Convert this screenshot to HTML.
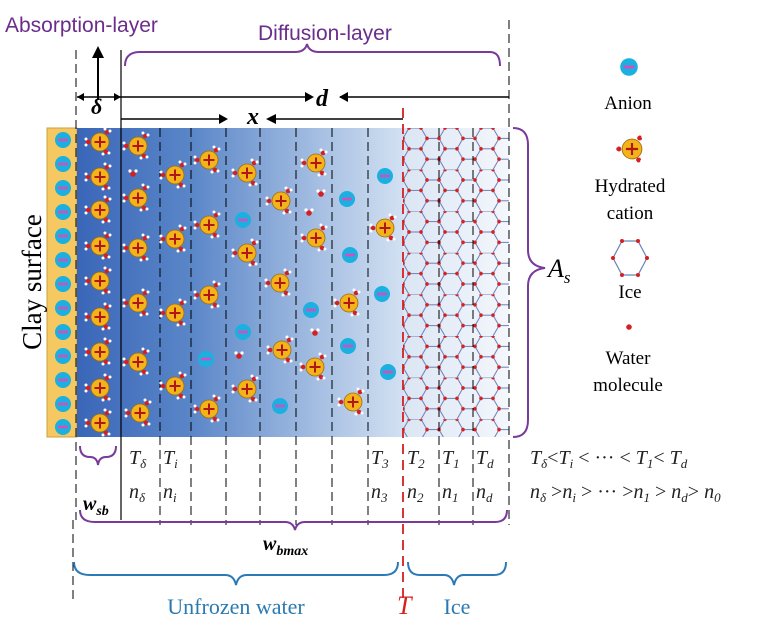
<!DOCTYPE html>
<html><head><meta charset="utf-8"><style>
body{margin:0;background:#fff;}
svg{display:block;font-family:"Liberation Serif",serif;}
</style></head><body>
<svg width="777" height="625" viewBox="0 0 777 625" xmlns="http://www.w3.org/2000/svg">
<defs>
<linearGradient id="g" x1="0" x2="1" y1="0" y2="0">
<stop offset="0" stop-color="#3a66b8"/><stop offset="0.35" stop-color="#5a86c8"/><stop offset="0.75" stop-color="#a7c0e3"/><stop offset="1" stop-color="#d2e0f2"/></linearGradient>
<linearGradient id="gi" x1="0" x2="1"><stop offset="0" stop-color="#dbe6f4"/><stop offset="1" stop-color="#f4f7fc"/></linearGradient>
<g id="cat">
<circle r="9" fill="#f3b419" stroke="#a06a10" stroke-width="0.8"/>
<path d="M-5.5 0H5.5M0 -5.5V5.5" stroke="#b01818" stroke-width="2"/>
<circle cx="-12" cy="0" r="2.3" fill="#d42020"/><circle cx="-14" cy="-3" r="1.5" fill="#fff"/><circle cx="-14" cy="3" r="1.5" fill="#fff"/>
<circle cx="7" cy="-10" r="2.3" fill="#d42020"/><circle cx="10" cy="-11" r="1.5" fill="#fff"/><circle cx="5" cy="-13" r="1.5" fill="#fff"/>
<circle cx="6" cy="10" r="2.3" fill="#d42020"/><circle cx="9" cy="11" r="1.5" fill="#fff"/><circle cx="3" cy="12" r="1.5" fill="#fff"/>
</g>
<g id="an"><circle r="8" fill="#1ab0e0"/><rect x="-5" y="-1.3" width="10" height="2.6" fill="#d050c0"/></g>
<g id="wm"><circle r="2.8" fill="#d42020"/><circle cx="-3" cy="-3" r="1.6" fill="#fff"/><circle cx="3" cy="-3" r="1.6" fill="#fff"/></g>
<pattern id="hex" x="403" y="128" width="36" height="41.6" patternUnits="userSpaceOnUse">
<path d="M6 0H18L24 10.4L18 20.8H6L0 10.4Z M24 10.4H36 M6 20.8L0 31.2L6 41.6 M18 20.8L24 31.2L18 41.6 M24 31.2H36" fill="none" stroke="#6a80b8" stroke-width="1"/>
<g fill="#d42020"><circle cx="6" cy="0" r="1.8"/><circle cx="18" cy="0" r="1.8"/><circle cx="24" cy="10.4" r="1.8"/><circle cx="0" cy="10.4" r="1.8"/><circle cx="36" cy="10.4" r="1.8"/><circle cx="6" cy="20.8" r="1.8"/><circle cx="18" cy="20.8" r="1.8"/><circle cx="24" cy="31.2" r="1.8"/><circle cx="0" cy="31.2" r="1.8"/><circle cx="36" cy="31.2" r="1.8"/></g>
</pattern>
</defs>

<text x="5" y="32" font-size="21" fill="#6b2d8c" font-family="Liberation Sans, sans-serif">Absorption-layer</text>
<text x="258" y="40" font-size="21" fill="#6b2d8c" font-family="Liberation Sans, sans-serif">Diffusion-layer</text>
<path d="M125 66 Q125 52 140 52 H295 Q305 52 307 44 Q309 52 319 52 H490 Q500 52 500 66" fill="none" stroke="#7a3a9a" stroke-width="2"/>
<path d="M98 100V52" stroke="#000" stroke-width="2"/><path d="M92 58L98 46L104 58Z" fill="#000"/>

<path d="M77 97H121" stroke="#000" stroke-width="1.5"/><path d="M84 93L77 97L84 101Z M114 93L121 97L114 101Z" fill="#000"/>
<text x="91" y="114" font-size="22" font-style="italic" font-weight="bold">δ</text>
<path d="M121 97H312" stroke="#000" stroke-width="1.5"/><path d="M305 92L314 97L305 102Z" fill="#000"/>
<text x="316" y="106" font-size="24" font-style="italic" font-weight="bold">d</text>
<path d="M340 97H509" stroke="#000" stroke-width="1.5"/><path d="M348 92L339 97L348 102Z" fill="#000"/>
<path d="M121 119H226" stroke="#000" stroke-width="1.5"/><path d="M219 114L228 119L219 124Z" fill="#000"/>
<text x="247" y="124" font-size="24" font-style="italic" font-weight="bold">x</text>
<path d="M268 119H403" stroke="#000" stroke-width="1.5"/><path d="M276 114L266 119L276 124Z" fill="#000"/>

<rect x="47" y="128" width="30" height="309" fill="#f5c862" stroke="#c9a040"/>
<rect x="77" y="128" width="326" height="309" fill="url(#g)"/>
<rect x="403" y="128" width="106" height="309" fill="url(#gi)"/>
<rect x="403" y="128" width="106" height="309" fill="url(#hex)"/>
<g><use href="#an" x="63" y="140"/><use href="#an" x="63" y="164"/><use href="#an" x="63" y="188"/><use href="#an" x="63" y="212"/><use href="#an" x="63" y="236"/><use href="#an" x="63" y="260"/><use href="#an" x="63" y="284"/><use href="#an" x="63" y="308"/><use href="#an" x="63" y="332"/><use href="#an" x="63" y="356"/><use href="#an" x="63" y="380"/><use href="#an" x="63" y="404"/><use href="#an" x="63" y="427"/></g>

<g stroke="#000" stroke-width="1" stroke-dasharray="9,5">
<path d="M76 50V520"/><path d="M160 128V525"/><path d="M191 128V525"/><path d="M226 128V525"/><path d="M260 128V525"/><path d="M296 128V525"/><path d="M332 128V525"/><path d="M368 128V525"/><path d="M439 128V525"/><path d="M473 128V525"/><path d="M509 20V525"/><path d="M73 520V600"/>
</g>
<path d="M121 50V520" stroke="#000" stroke-width="1.2"/>
<path d="M403 108V600" stroke="#d42020" stroke-width="1.8" stroke-dasharray="10,6"/>

<g>
<use href="#cat" x="100" y="142"/><use href="#cat" x="100" y="177"/><use href="#cat" x="100" y="210"/><use href="#cat" x="100" y="246"/><use href="#cat" x="100" y="281"/><use href="#cat" x="100" y="317"/><use href="#cat" x="100" y="352"/><use href="#cat" x="100" y="388"/><use href="#cat" x="100" y="423"/>
<use href="#cat" x="138" y="146"/><use href="#cat" x="138" y="198"/><use href="#cat" x="138" y="248"/><use href="#cat" x="138" y="303"/><use href="#cat" x="138" y="362"/><use href="#cat" x="140" y="413"/>
<use href="#cat" x="175" y="175"/><use href="#cat" x="175" y="239"/><use href="#cat" x="175" y="313"/><use href="#cat" x="175" y="386"/>
<use href="#cat" x="209" y="160"/><use href="#cat" x="209" y="225"/><use href="#cat" x="209" y="295"/><use href="#cat" x="209" y="409"/>
<use href="#cat" x="247" y="173"/><use href="#cat" x="247" y="253"/><use href="#cat" x="247" y="389"/>
<use href="#cat" x="281" y="201"/><use href="#cat" x="280" y="283"/><use href="#cat" x="282" y="350"/>
<use href="#cat" x="316" y="163"/><use href="#cat" x="316" y="238"/><use href="#cat" x="315" y="367"/>
<use href="#cat" x="349" y="303"/><use href="#cat" x="353" y="402"/><use href="#cat" x="385" y="228"/>
<use href="#an" x="243" y="220"/><use href="#an" x="347" y="199"/><use href="#an" x="385" y="176"/><use href="#an" x="350" y="255"/><use href="#an" x="382" y="294"/><use href="#an" x="311" y="310"/><use href="#an" x="243" y="332"/><use href="#an" x="348" y="346"/><use href="#an" x="206" y="359"/><use href="#an" x="388" y="372"/><use href="#an" x="280" y="406"/>
<use href="#wm" x="133" y="174"/><use href="#wm" x="321" y="194"/><use href="#wm" x="309" y="213"/><use href="#wm" x="315" y="333"/><use href="#wm" x="239" y="356"/>
</g>

<text transform="translate(41,282) rotate(-90)" text-anchor="middle" font-size="27" fill="#000">Clay surface</text>

<path d="M513 128 Q528 128 528 145 V250 Q528 266 545 268 Q528 270 528 286 V420 Q528 437 513 437" fill="none" stroke="#7a3a9a" stroke-width="2"/>
<text x="548" y="277" font-size="26" font-style="italic">A<tspan font-size="17" dy="6">s</tspan></text>

<g transform="translate(629,67) scale(1.1)"><use href="#an"/></g>
<text x="628" y="109" font-size="19" text-anchor="middle">Anion</text>
<g transform="translate(632,149) scale(1.1)"><use href="#cat"/></g>
<text x="630" y="192" font-size="19" text-anchor="middle">Hydrated</text>
<text x="630" y="219" font-size="19" text-anchor="middle">cation</text>
<g transform="translate(630,258)"><path d="M-8 -17H8L17 0L8 17H-8L-17 0Z" fill="none" stroke="#6a80b8" stroke-width="1.2"/><g fill="#d42020"><circle cx="-8" cy="-17" r="2"/><circle cx="8" cy="-17" r="2"/><circle cx="17" cy="0" r="2"/><circle cx="-17" cy="0" r="2"/><circle cx="8" cy="17" r="2"/><circle cx="-8" cy="17" r="2"/></g></g>
<text x="630" y="298" font-size="19" text-anchor="middle">Ice</text>
<use href="#wm" x="629" y="327"/>
<text x="628" y="364" font-size="19" text-anchor="middle">Water</text>
<text x="628" y="391" font-size="19" text-anchor="middle">molecule</text>

<g font-size="20" font-style="italic" fill="#222">
<text x="129" y="464">T<tspan font-size="13" dy="4">δ</tspan></text>
<text x="163" y="464">T<tspan font-size="13" dy="4">i</tspan></text>
<text x="371" y="464">T<tspan font-size="13" dy="4">3</tspan></text>
<text x="407" y="464">T<tspan font-size="13" dy="4">2</tspan></text>
<text x="442" y="464">T<tspan font-size="13" dy="4">1</tspan></text>
<text x="476" y="464">T<tspan font-size="13" dy="4">d</tspan></text>
<text x="129" y="498">n<tspan font-size="13" dy="4">δ</tspan></text>
<text x="163" y="498">n<tspan font-size="13" dy="4">i</tspan></text>
<text x="371" y="498">n<tspan font-size="13" dy="4">3</tspan></text>
<text x="407" y="498">n<tspan font-size="13" dy="4">2</tspan></text>
<text x="442" y="498">n<tspan font-size="13" dy="4">1</tspan></text>
<text x="476" y="498">n<tspan font-size="13" dy="4">d</tspan></text>
<text x="530" y="464">T<tspan font-size="13" dy="4">δ</tspan><tspan dy="-4" font-style="normal">&lt;</tspan>T<tspan font-size="13" dy="4">i</tspan><tspan dy="-4" font-style="normal"> &lt; ··· &lt; </tspan>T<tspan font-size="13" dy="4">1</tspan><tspan dy="-4" font-style="normal">&lt; </tspan>T<tspan font-size="13" dy="4">d</tspan></text>
<text x="530" y="498">n<tspan font-size="13" dy="4">δ</tspan><tspan dy="-4" font-style="normal"> &gt;</tspan>n<tspan font-size="13" dy="4">i</tspan><tspan dy="-4" font-style="normal"> &gt; ··· &gt;</tspan>n<tspan font-size="13" dy="4">1</tspan><tspan dy="-4" font-style="normal"> &gt; </tspan>n<tspan font-size="13" dy="4">d</tspan><tspan dy="-4" font-style="normal">&gt; </tspan>n<tspan font-size="13" dy="4">0</tspan></text>
</g>
<path d="M80 446 Q80 457 90 457 Q97 457 98 465 Q99 457 106 457 Q116 457 116 446" fill="none" stroke="#7a3a9a" stroke-width="2"/>
<text x="83" y="510" font-size="20" font-style="italic" font-weight="bold">w<tspan font-size="14" dy="5">sb</tspan></text>
<path d="M80 510 Q80 522 95 522 H285 Q293 522 295 530 Q297 522 305 522 H495 Q507 522 507 510" fill="none" stroke="#7a3a9a" stroke-width="2"/>
<text x="263" y="550" font-size="20" font-style="italic" font-weight="bold">w<tspan font-size="14" dy="5">bmax</tspan></text>
<path d="M74 562 Q74 575 90 575 H225 Q234 575 236 585 Q238 575 247 575 H384 Q398 575 398 562" fill="none" stroke="#2a7ab8" stroke-width="2"/>
<path d="M408 562 Q408 575 420 575 H444 Q452 575 454 585 Q456 575 464 575 H494 Q506 575 506 562" fill="none" stroke="#2a7ab8" stroke-width="2"/>
<text x="236" y="614" font-size="22" text-anchor="middle" fill="#2a7ab0">Unfrozen water</text>
<text x="397" y="614" font-size="26" font-style="italic" fill="#d42020">T</text>
<text x="457" y="614" font-size="22" text-anchor="middle" fill="#2a7ab0">Ice</text>
</svg>
</body></html>
